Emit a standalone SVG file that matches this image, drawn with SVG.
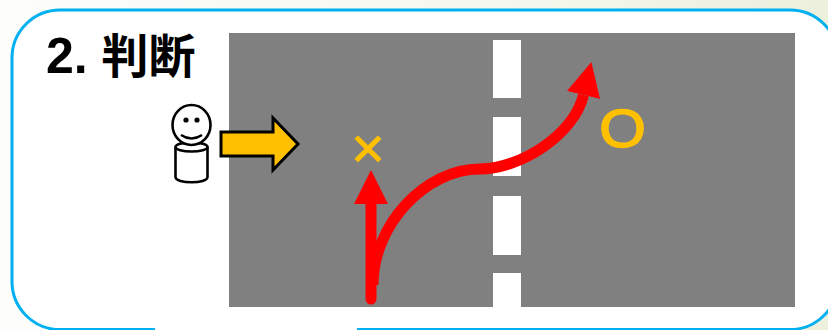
<svg xmlns="http://www.w3.org/2000/svg" width="828" height="330" viewBox="0 0 828 330">
<defs>
<linearGradient id="bg" x1="0" x2="1" y1="0" y2="0"><stop offset="0" stop-color="#fdfdfb"/><stop offset="0.6" stop-color="#f6f8ee"/><stop offset="1" stop-color="#ecf0dc"/></linearGradient>
<marker id="head" markerUnits="userSpaceOnUse" markerWidth="36" markerHeight="36" refX="0" refY="18" orient="auto" viewBox="0 0 36 36"><path d="M0 1 L34 18 L0 35 Z" fill="#f00"/></marker>
</defs>
<style>
.dash{fill:#fff}
.red{fill:none;stroke:#f00;stroke-width:11}
.mark{fill:#ffc000;stroke:#ffc000;font-family:"Liberation Sans","Noto Sans CJK JP",sans-serif}
</style>
<rect width="828" height="330" fill="url(#bg)"/>
<rect id="frame" x="12" y="10" width="826" height="319.5" rx="48" ry="48" fill="#fff" stroke="#00b0f0" stroke-width="3"/>
<rect x="155" y="327" width="202" height="3" fill="#fff"/>
<text id="title" x="46" y="73" font-family="'Liberation Sans','Noto Sans CJK JP',sans-serif" font-weight="700" font-size="50" fill="#000">2. <tspan font-size="47">判断</tspan></text>
<g id="road">
<rect x="229" y="33" width="566" height="274" fill="#808080"/>
<rect class="dash" x="493" y="40" width="28" height="58"/>
<rect class="dash" x="493" y="117" width="28" height="59"/>
<rect class="dash" x="493" y="196" width="28" height="59"/>
<rect class="dash" x="493" y="273" width="28" height="34"/>
</g>
<g id="person" fill="#fff" stroke="#000" stroke-width="2.600">
<path d="M175.500 147V177C175.500 184 207.500 184 207.500 177V147"/>
<ellipse cx="191.500" cy="147" rx="16" ry="4.500"/>
<ellipse cx="191.500" cy="125" rx="19" ry="20"/>
<circle cx="186" cy="120" r="2.600" fill="#000" stroke="none"/>
<circle cx="197" cy="120" r="2.600" fill="#000" stroke="none"/>
<path d="M181 135Q191.500 142 202 135" fill="none"/>
</g>
<g id="look-arrow"><path d="M221 132H273V118L298 144L273 170V156H221Z" fill="#ffc000" stroke="#000" stroke-width="3"/></g>
<g id="connectors">
<path class="red" d="M373 285C373 225 425 169 480 169C520 169 574 135 583.500 95" marker-end="url(#head)"/>
<path class="red" d="M371 299V204" stroke-linecap="round" marker-end="url(#head)"/>
</g>
<text id="cross" class="mark" x="368" y="168" text-anchor="middle" font-size="58" stroke-width="0.8">×</text>
<text id="circle" class="mark" transform="translate(622.500 146.500) scale(1.11 1)" text-anchor="middle" font-size="54" stroke-width="1.600">O</text>
</svg>
